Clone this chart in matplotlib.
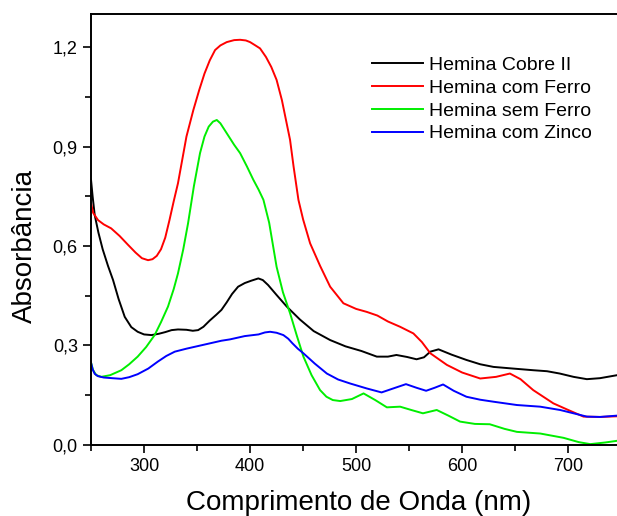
import numpy as np
import matplotlib.pyplot as plt
from matplotlib.ticker import MultipleLocator, FuncFormatter

plt.rcParams['font.family'] = ['Liberation Sans', 'DejaVu Sans']

# ----------------------------------------------------------
# Data (wavelength nm, absorbance)
# ----------------------------------------------------------

wl_cobre = [250, 251.5, 253.5, 257, 261, 266, 270.8, 276, 281.8, 288, 294, 300,
            307, 314, 320, 326, 332, 340, 346, 351, 356, 362, 368, 373, 378, 383,
            388.7, 395, 401, 407.8, 412, 417, 425, 434.6, 447, 460, 475.5, 490,
            505, 519.5, 530, 538, 548, 557, 564, 570, 577.7, 590, 604, 617, 629.5,
            648, 667, 680, 692, 705, 717.6, 730, 746]
abs_cobre = [0.80, 0.75, 0.693, 0.64, 0.59, 0.54, 0.497, 0.44, 0.386, 0.355, 0.341,
             0.333, 0.331, 0.335, 0.340, 0.346, 0.348, 0.347, 0.344, 0.346, 0.356,
             0.375, 0.392, 0.407, 0.43, 0.455, 0.477, 0.488, 0.495, 0.502, 0.497,
             0.482, 0.452, 0.417, 0.378, 0.343, 0.316, 0.297, 0.283, 0.266, 0.266,
             0.271, 0.265, 0.258, 0.264, 0.281, 0.288, 0.272, 0.256, 0.243, 0.235,
             0.23, 0.225, 0.222, 0.215, 0.205, 0.198, 0.201, 0.210]

wl_ferro = [250, 252, 256.6, 262, 269, 277, 285, 292, 298, 303.8, 308, 312, 316,
            320, 324, 328, 332, 340, 346.5, 352, 357, 362, 367, 372, 378, 385,
            390.6, 396, 400, 405, 409.4, 415, 420, 425, 430, 437.7, 441, 445.6,
            450, 456.6, 466, 475.5, 488, 500, 510, 520, 530, 541.5, 554, 562, 570,
            585.6, 600, 617, 632, 645, 655, 667, 686, 700, 714.4, 730, 746]
abs_ferro = [0.729, 0.70, 0.678, 0.665, 0.653, 0.63, 0.603, 0.58, 0.563, 0.557,
             0.56, 0.57, 0.59, 0.625, 0.678, 0.735, 0.789, 0.93, 1.010, 1.07, 1.12,
             1.16, 1.191, 1.205, 1.215, 1.221, 1.222, 1.22, 1.215, 1.205, 1.196,
             1.17, 1.14, 1.101, 1.04, 0.92, 0.84, 0.739, 0.68, 0.608, 0.54, 0.477,
             0.427, 0.410, 0.401, 0.39, 0.372, 0.356, 0.336, 0.31, 0.276, 0.241,
             0.218, 0.200, 0.205, 0.215, 0.198, 0.165, 0.125, 0.105, 0.085, 0.084,
             0.086]

wl_sem = [250, 252, 255, 259.7, 268, 278.6, 286, 294, 302, 310, 316, 322.6, 328,
          332, 337, 341.5, 347, 352.8, 357, 361, 365, 368.6, 372, 378, 385, 390.6,
          397, 403, 408, 412.6, 418, 425, 431, 437.7, 444, 450.3, 458, 466, 472,
          478, 485, 496, 507, 518, 529, 541.5, 552, 563, 576, 587, 598, 612, 626,
          640, 651.6, 673.6, 695.6, 710, 720.8, 735, 746]
abs_sem = [0.248, 0.225, 0.21, 0.205, 0.21, 0.225, 0.243, 0.266, 0.295, 0.331,
           0.37, 0.417, 0.47, 0.517, 0.59, 0.668, 0.78, 0.88, 0.93, 0.96, 0.975,
           0.980, 0.97, 0.94, 0.905, 0.880, 0.84, 0.80, 0.77, 0.739, 0.67, 0.537,
           0.46, 0.397, 0.33, 0.266, 0.21, 0.165, 0.145, 0.135, 0.132, 0.138,
           0.155, 0.135, 0.113, 0.115, 0.105, 0.095, 0.105, 0.088, 0.07, 0.063,
           0.062, 0.048, 0.039, 0.034, 0.021, 0.008, 0.002, 0.007, 0.012]

wl_zinco = [250, 251.5, 253.5, 256.6, 262, 270, 278.6, 286, 294, 304, 313, 321,
            329, 340, 351, 362, 373, 381, 395, 408, 414, 418.9, 425, 431.4, 436,
            440, 445, 450.3, 461, 472.4, 483, 494.3, 510, 524, 535, 547, 557, 566,
            574, 582, 592, 604, 617, 629.5, 651.6, 673.6, 692.4, 705, 717.6, 730,
            746]
abs_zinco = [0.248, 0.228, 0.214, 0.207, 0.203, 0.201, 0.199, 0.204, 0.213, 0.23,
             0.251, 0.268, 0.281, 0.29, 0.298, 0.306, 0.314, 0.318, 0.328, 0.333,
             0.339, 0.341, 0.338, 0.331, 0.32, 0.306, 0.29, 0.276, 0.245, 0.215,
             0.197, 0.185, 0.170, 0.158, 0.17, 0.183, 0.172, 0.163, 0.172, 0.182,
             0.163, 0.145, 0.136, 0.13, 0.12, 0.115, 0.105, 0.095, 0.085, 0.084,
             0.088]

labels = ["Hemina Cobre II", "Hemina com Ferro", "Hemina sem Ferro", "Hemina com Zinco"]
colors = ["#000000", "#ff0000", "#00ee00", "#0000ff"]

# ----------------------------------------------------------
# Plot
# ----------------------------------------------------------

fig = plt.figure(figsize=(6.17, 5.16), dpi=100)
ax = fig.add_axes([0.1475, 0.138, 0.8525, 0.835])

series = [(wl_cobre, abs_cobre), (wl_ferro, abs_ferro),
          (wl_sem, abs_sem), (wl_zinco, abs_zinco)]
for (x, y), lab, col in zip(series, labels, colors):
    ax.plot(x, y, color=col, lw=1.4, label=lab, solid_joinstyle="round")

ax.set_xlim(250, 746)
ax.set_ylim(0, 1.3)

ax.xaxis.set_major_locator(MultipleLocator(100))
ax.xaxis.set_minor_locator(MultipleLocator(50))
ax.yaxis.set_major_locator(MultipleLocator(0.3))
ax.yaxis.set_minor_locator(MultipleLocator(0.15))
ax.yaxis.set_major_formatter(FuncFormatter(lambda v, p: f"{v:.1f}".replace(".", ",")))

ax.tick_params(which="major", direction="out", length=6, width=1.2, labelsize=13)
ax.tick_params(which="minor", direction="out", length=4, width=1.2)

ax.spines["right"].set_visible(False)
for s in ["left", "bottom", "top"]:
    ax.spines[s].set_linewidth(1.4)

ax.set_xlabel("Comprimento de Onda (nm)", fontsize=20)
ax.set_ylabel("Absorbância", fontsize=20)
ax.xaxis.set_label_coords(0.508, -0.105)
ax.yaxis.set_label_coords(-0.100, 0.461)

leg = ax.legend(loc="upper left", bbox_to_anchor=(0.52, 0.92), frameon=False,
                fontsize=14, handlelength=2.6, handletextpad=0.3,
                labelspacing=0.27, borderaxespad=0)

fig.savefig("out.png", dpi=100)
